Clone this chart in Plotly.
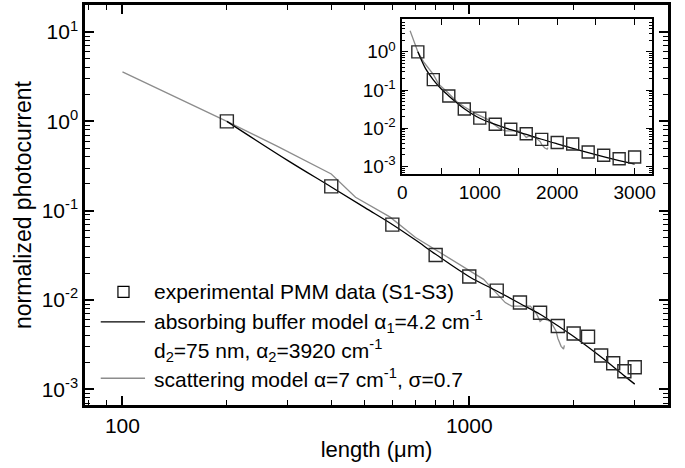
import plotly.graph_objects as go

# experimental PMM data (S1-S3)
exp_len = [200, 400, 600, 800, 1000, 1200, 1400, 1600, 1800, 2000, 2200, 2400, 2600, 2800, 3000]
exp_val = [1.0, 0.187, 0.0697, 0.0319, 0.0183, 0.0127, 0.00935, 0.00718, 0.0051, 0.0042,
           0.00386, 0.00238, 0.00195, 0.00159, 0.00176]

# absorbing buffer model
abs_len = [200, 300, 400, 500, 600, 700, 800, 1000, 1200, 1400, 1600, 1800, 2000, 2400, 2800, 3000]
abs_val = [1.0, 0.363, 0.184, 0.108, 0.070, 0.0468, 0.0324, 0.0182, 0.0126, 0.00912,
           0.00692, 0.00513, 0.00389, 0.00229, 0.00141, 0.00114]

# scattering model
sca_len = [100, 200, 280, 400, 470, 590, 700, 800, 940, 1030, 1100, 1150, 1210, 1270, 1325,
           1420, 1500, 1565, 1600, 1635, 1715, 1780, 1800, 1840, 1870, 1880]
sca_val = [3.58, 1.0, 0.525, 0.257, 0.141, 0.0851, 0.0501, 0.0363, 0.0245, 0.0200, 0.0170,
           0.0141, 0.0115, 0.00933, 0.00851, 0.00851, 0.00851, 0.00692, 0.00575, 0.00617,
           0.00575, 0.00447, 0.00372, 0.00302, 0.00282, 0.00309]

main_y_ticks = [1e-3, 1e-2, 1e-1, 1, 10]
main_y_text = ["10<sup>-3</sup>", "10<sup>-2</sup>", "10<sup>-1</sup>", "10<sup>0</sup>", "10<sup>1</sup>"]
main_x_ticks = [100, 1000]
main_x_text = ["100", "1000"]
inset_y_ticks = [1e-3, 1e-2, 1e-1, 1]
inset_y_text = ["10<sup>-3</sup>", "10<sup>-2</sup>", "10<sup>-1</sup>", "10<sup>0</sup>"]
inset_x_ticks = [0, 1000, 2000, 3000]

legend_labels = [
    "experimental PMM data (S1-S3)",
    "absorbing buffer model α<sub>1</sub>=4.2 cm<sup>-1</sup>",
    "d<sub>2</sub>=75 nm, α<sub>2</sub>=3920 cm<sup>-1</sup>",
    "scattering model α=7 cm<sup>-1</sup>, σ=0.7",
]

FONT = "Liberation Sans, Arial, sans-serif"
GRAY = "#8c8c8c"
SQ = "#2a2a2a"

fig = go.Figure()

for xa, ya, msize in [("x", "y", 13), ("x2", "y2", 12)]:
    fig.add_trace(go.Scatter(x=sca_len, y=sca_val, mode="lines", xaxis=xa, yaxis=ya,
                             line=dict(color=GRAY, width=1.3), showlegend=False))
    fig.add_trace(go.Scatter(x=abs_len, y=abs_val, mode="lines", xaxis=xa, yaxis=ya,
                             line=dict(color="black", width=1.3, shape="spline"), showlegend=False))
    fig.add_trace(go.Scatter(x=exp_len, y=exp_val, mode="markers", xaxis=xa, yaxis=ya,
                             marker=dict(symbol="square-open", size=msize, color=SQ,
                                         line=dict(width=1.4, color=SQ)),
                             showlegend=False))

def log_minor(lo_exp, hi_exp):
    vals = []
    for e in range(lo_exp, hi_exp + 1):
        for m in range(2, 10):
            vals.append(m * 10 ** e)
    return vals

axis_common = dict(showline=True, linecolor="black", mirror="ticks", ticks="inside",
                   tickcolor="black", showgrid=False, zeroline=False)

fig.update_layout(
    width=685, height=468,
    margin=dict(l=85, r=17, t=2, b=63),
    paper_bgcolor="white", plot_bgcolor="white",
    font=dict(family=FONT, size=21, color="black"),
    xaxis=dict(type="log", range=[1.892, 3.573], tickvals=main_x_ticks, ticktext=main_x_text,
               ticklen=9, tickwidth=1.5, linewidth=2.5,
               minor=dict(tickvals=log_minor(1, 3), ticks="inside", ticklen=5,
                          tickwidth=1.2, tickcolor="black", showgrid=False),
               title=dict(text="length (μm)", font=dict(size=22), standoff=6),
               tickfont=dict(size=21), **axis_common),
    yaxis=dict(type="log", range=[-3.177, 1.303], tickvals=main_y_ticks, ticktext=main_y_text,
               ticklen=9, tickwidth=1.5, linewidth=2.5,
               minor=dict(tickvals=log_minor(-4, 1), ticks="inside", ticklen=5,
                          tickwidth=1.2, tickcolor="black", showgrid=False),
               title=dict(text="normalized photocurrent", font=dict(size=23), standoff=4),
               tickfont=dict(size=21), **axis_common),
    xaxis2=dict(domain=[0.543, 0.972], anchor="y2", range=[-10, 3220],
                tickvals=inset_x_ticks, ticklen=6, tickwidth=1.3, linewidth=2,
                minor=dict(dtick=500, ticks="inside", ticklen=6, tickwidth=1.3,
                           tickcolor="black", showgrid=False),
                tickfont=dict(size=19), **axis_common),
    yaxis2=dict(domain=[0.5775, 0.965], anchor="x2", type="log", range=[-3.2, 0.86],
                tickvals=inset_y_ticks, ticktext=inset_y_text, ticklen=6, tickwidth=1.3,
                linewidth=2,
                minor=dict(tickvals=log_minor(-4, 0), ticks="inside", ticklen=3,
                           tickwidth=1, tickcolor="black", showgrid=False),
                tickfont=dict(size=19), **axis_common),
)

# manual legend (samples in paper coordinates)
leg_y = [0.283, 0.208, 0.136, 0.067]
text_x = 0.115
fig.add_shape(type="rect", xref="paper", yref="paper",
              x0=0.066 - 0.0095, x1=0.066 + 0.0095, y0=leg_y[0] - 0.0137, y1=leg_y[0] + 0.0137,
              line=dict(color="black", width=1.2), fillcolor="rgba(0,0,0,0)")
fig.add_shape(type="line", xref="paper", yref="paper", x0=0.027, x1=0.103,
              y0=leg_y[1], y1=leg_y[1], line=dict(color="black", width=1.2))
fig.add_shape(type="line", xref="paper", yref="paper", x0=0.027, x1=0.103,
              y0=leg_y[3], y1=leg_y[3], line=dict(color=GRAY, width=1.6))
for yy, txt in zip(leg_y, legend_labels):
    fig.add_annotation(xref="paper", yref="paper", x=text_x, y=yy, text=txt,
                       showarrow=False, xanchor="left", yanchor="middle",
                       font=dict(size=21, family=FONT, color="black"))

fig.write_html("out.html")
